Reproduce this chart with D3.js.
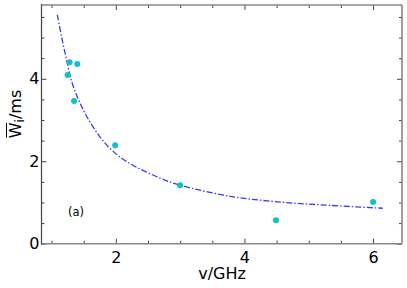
<!DOCTYPE html>
<html>
<head>
<meta charset="utf-8">
<script src="https://cdn.jsdelivr.net/npm/d3@7"></script>
<style>
  body { margin: 0; background: #fff; }
  svg { display: block; font-family: "DejaVu Sans", sans-serif; }
</style>
</head>
<body>
<script>
const width = 407;
const height = 288;

// measured points
const freqGHz = [1.28, 1.40, 1.25, 1.35, 1.99, 3.0, 4.49, 6.0];
const waitMs  = [4.40, 4.36, 4.09, 3.46, 2.39, 1.42, 0.57, 1.01];

// fitted curve
const fitX = [1.09, 1.16, 1.24, 1.31, 1.42, 1.55, 1.73, 1.91, 2.17, 2.69, 3.0, 3.78, 4.56, 5.33, 6.15];
const fitY = [5.55, 4.99, 4.42, 3.95, 3.49, 3.08, 2.64, 2.31, 1.99, 1.59, 1.42, 1.15, 1.01, 0.93, 0.86];

const xMajor = [2, 4, 6];
const yMajor = [0, 2, 4];

const margin = {left: 41.5, right: 5, top: 5, bottom: 44.3};

const x = d3.scaleLinear().domain([0.844, 6.45]).range([margin.left, width - margin.right]);
const y = d3.scaleLinear().domain([0, 5.79]).range([height - margin.bottom, margin.top]);

const xMinor = d3.range(1, 6.5, 0.5).filter(v => xMajor.indexOf(v) < 0);
const yMinor = d3.range(0.5, 5.6, 0.5).filter(v => yMajor.indexOf(v) < 0);

const svg = d3.select("body").append("svg")
    .attr("width", width)
    .attr("height", height);

const x0 = margin.left, x1 = width - margin.right;
const y0 = height - margin.bottom, y1 = margin.top;

function tickAxis(g, axis) {
    g.call(axis);
    g.select(".domain").remove();
    g.selectAll(".tick line").attr("stroke", "#444").attr("stroke-width", 1);
}

// bottom
svg.append("g").attr("transform", `translate(0,${y0})`)
    .call(g => tickAxis(g, d3.axisBottom(x).tickValues(xMajor).tickSizeInner(-5).tickSizeOuter(0).tickPadding(8).tickFormat(d3.format("d"))))
    .call(g => g.selectAll("text").attr("font-size", 16).attr("fill", "#000").attr("font-family", "DejaVu Sans"));
svg.append("g").attr("transform", `translate(0,${y0})`)
    .call(g => tickAxis(g, d3.axisBottom(x).tickValues(xMinor).tickSizeInner(-3).tickSizeOuter(0).tickFormat("")));
// top
svg.append("g").attr("transform", `translate(0,${y1})`)
    .call(g => tickAxis(g, d3.axisTop(x).tickValues(xMajor).tickSizeInner(-5).tickSizeOuter(0).tickFormat("")));
svg.append("g").attr("transform", `translate(0,${y1})`)
    .call(g => tickAxis(g, d3.axisTop(x).tickValues(xMinor).tickSizeInner(-3).tickSizeOuter(0).tickFormat("")));
// left
svg.append("g").attr("transform", `translate(${x0},0)`)
    .call(g => tickAxis(g, d3.axisLeft(y).tickValues(yMajor).tickSizeInner(-5).tickSizeOuter(0).tickPadding(3).tickFormat(d3.format("d"))))
    .call(g => g.selectAll("text").attr("font-size", 16).attr("fill", "#000").attr("font-family", "DejaVu Sans").attr("x", -2));
svg.append("g").attr("transform", `translate(${x0},0)`)
    .call(g => tickAxis(g, d3.axisLeft(y).tickValues(yMinor).tickSizeInner(-3).tickSizeOuter(0).tickFormat("")));
// right
svg.append("g").attr("transform", `translate(${x1},0)`)
    .call(g => tickAxis(g, d3.axisRight(y).tickValues(yMajor).tickSizeInner(-5).tickSizeOuter(0).tickFormat("")));
svg.append("g").attr("transform", `translate(${x1},0)`)
    .call(g => tickAxis(g, d3.axisRight(y).tickValues(yMinor).tickSizeInner(-3).tickSizeOuter(0).tickFormat("")));

// frame
svg.append("line").attr("x1", x0).attr("x2", x1).attr("y1", y0).attr("y2", y0)
    .attr("stroke", "#888").attr("stroke-width", 1.6);
svg.append("line").attr("x1", x0).attr("x2", x1).attr("y1", y1).attr("y2", y1)
    .attr("stroke", "#888").attr("stroke-width", 1.6);
svg.append("line").attr("x1", x1).attr("x2", x1).attr("y1", y1).attr("y2", y0)
    .attr("stroke", "#888").attr("stroke-width", 1.6);
svg.append("line").attr("x1", x0).attr("x2", x0).attr("y1", y1 - 0.8).attr("y2", y0 + 0.8)
    .attr("stroke", "#444").attr("stroke-width", 1.2);

// fit line
const fitData = fitX.map((v, i) => [v, fitY[i]]);
svg.append("path")
    .datum(fitData)
    .attr("fill", "none")
    .attr("stroke", "#3a3af0")
    .attr("stroke-width", 1.3)
    .attr("stroke-dasharray", "6,2,1.5,2")
    .attr("d", d3.line().x(d => x(d[0])).y(d => y(d[1])).curve(d3.curveCatmullRom.alpha(0.5)));

// points
svg.append("g").selectAll("circle")
    .data(freqGHz.map((v, i) => [v, waitMs[i]]))
    .join("circle")
    .attr("cx", d => x(d[0]))
    .attr("cy", d => y(d[1]))
    .attr("r", 3)
    .attr("fill", "#10c0c8");

// panel label
svg.append("text")
    .attr("x", 76).attr("y", 216)
    .attr("text-anchor", "middle")
    .attr("font-size", 11.5)
    .text("(a)");

// x label
svg.append("text")
    .attr("x", 222).attr("y", 279)
    .attr("text-anchor", "middle")
    .attr("font-size", 16)
    .text("v/GHz");

// y label with overline on W
const yl = svg.append("g").attr("transform", "translate(21,114) rotate(-90)");
const ylText = yl.append("text")
    .attr("text-anchor", "middle")
    .attr("font-size", 16);
const wSpan = ylText.append("tspan").text("W");
ylText.append("tspan").attr("font-size", 12).attr("dy", 3).text("i");
ylText.append("tspan").attr("dy", -3).text("/ms");
const bb = ylText.node().getBBox();
const wLen = wSpan.node().getComputedTextLength();
yl.append("line")
    .attr("x1", bb.x + 0.5).attr("x2", bb.x + wLen - 0.5)
    .attr("y1", -14.5).attr("y2", -14.5)
    .attr("stroke", "#000").attr("stroke-width", 1);
</script>
</body>
</html>
